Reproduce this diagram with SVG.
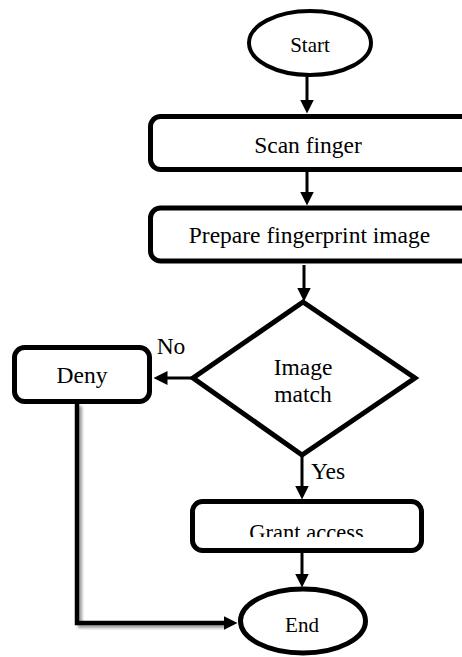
<svg xmlns="http://www.w3.org/2000/svg" width="462" height="657" viewBox="0 0 462 657">
  <style>
    .shape { fill: #ffffff; stroke: #000000; stroke-width: 5; }
    .term { fill: #ffffff; stroke: #000000; stroke-width: 4; }
    .lbl { font-family: "Liberation Serif", "Times New Roman", serif; fill: #000000; text-anchor: middle; }
    .big { font-size: 23.5px; }
    .small { font-size: 21px; }
    .edge { fill: none; stroke: #000000; stroke-width: 3; }
    .thick { stroke-width: 4.5; }
  </style>
  <defs>
    <marker id="arrow" viewBox="0 0 14 14" markerWidth="14" markerHeight="14" markerUnits="userSpaceOnUse" refX="0.5" refY="7" orient="auto">
      <path d="M0,0 L14,7 L0,14 Z" fill="#000000"/>
    </marker>
    <clipPath id="grantClip">
      <rect x="190" y="499" width="240" height="38"/>
    </clipPath>
    <filter id="shadow" x="-20%" y="-5%" width="140%" height="120%">
      <feGaussianBlur stdDeviation="1.5"/>
    </filter>
  </defs>
  <rect width="462" height="657" fill="#ffffff"/>

  <g id="connectors">
    <path d="M80,406 V626 H226" fill="none" stroke="#9a9a9a" stroke-width="4" filter="url(#shadow)"/>
    <line class="edge" x1="307" y1="76" x2="307" y2="100" marker-end="url(#arrow)"/>
    <line class="edge" x1="307" y1="171" x2="307" y2="192" marker-end="url(#arrow)"/>
    <line class="edge" x1="304" y1="265" x2="304" y2="288" marker-end="url(#arrow)"/>
    <line class="edge" x1="193" y1="378" x2="167" y2="378" marker-end="url(#arrow)"/>
    <line class="edge" x1="302" y1="455" x2="302" y2="486" marker-end="url(#arrow)"/>
    <line class="edge" x1="302" y1="553" x2="302" y2="574" marker-end="url(#arrow)"/>
    <path class="edge thick" d="M77,404 V623 H224" marker-end="url(#arrow)"/>
  </g>

  <g id="start">
    <ellipse class="term" cx="310" cy="43" rx="61" ry="32"/>
    <text class="lbl small" x="310" y="52">Start</text>
  </g>

  <g id="scan">
    <rect class="shape" x="150.5" y="116.5" width="340" height="53" rx="10" ry="10"/>
    <text class="lbl big" x="308" y="153">Scan finger</text>
  </g>

  <g id="prepare">
    <rect class="shape" x="150.5" y="208" width="340" height="53" rx="10" ry="10"/>
    <text class="lbl big" x="309.5" y="243">Prepare fingerprint image</text>
  </g>

  <g id="decision">
    <polygon class="shape" points="303,302 415,378 302,455 193,378"/>
    <text class="lbl big" x="303" y="375">Image</text>
    <text class="lbl big" x="303" y="402">match</text>
  </g>

  <g id="deny">
    <rect class="shape" x="14.5" y="347.5" width="135" height="54" rx="10" ry="10"/>
    <text class="lbl big" x="82" y="383">Deny</text>
  </g>

  <g id="labels">
    <text class="lbl big" x="171" y="354">No</text>
    <text class="lbl big" x="328" y="479">Yes</text>
  </g>

  <g id="grant">
    <rect class="shape" x="192.5" y="501.5" width="229" height="49" rx="10" ry="10"/>
    <text class="lbl" font-size="22.5" x="306.5" y="540" clip-path="url(#grantClip)">Grant access</text>
  </g>

  <g id="end">
    <ellipse class="shape" cx="303" cy="621" rx="62.5" ry="32"/>
    <text class="lbl small" x="302" y="632">End</text>
  </g>
</svg>
